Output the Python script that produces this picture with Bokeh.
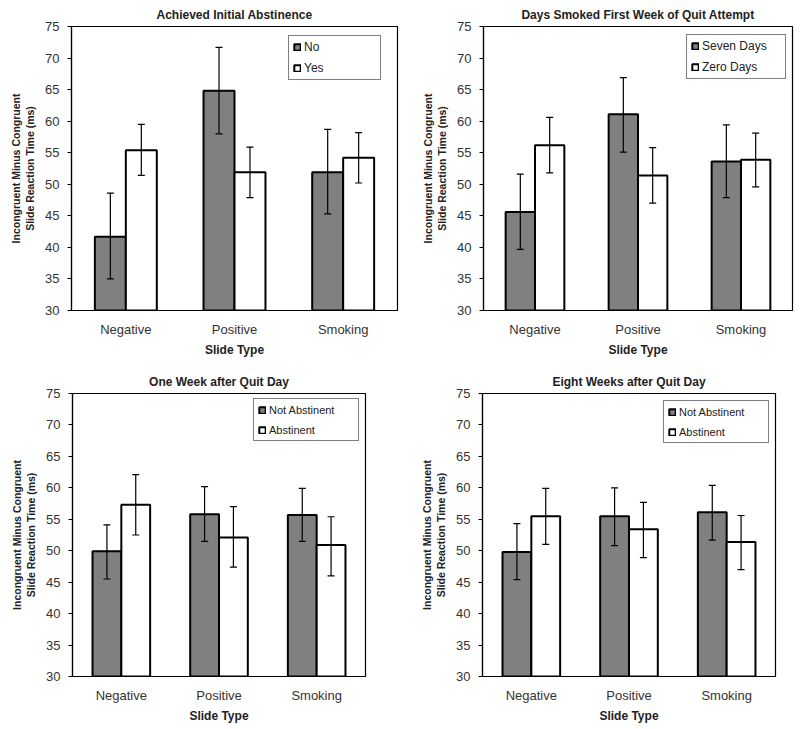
from bokeh.plotting import figure
from bokeh.layouts import column, row
from bokeh.models import ColumnDataSource, Legend, LegendItem, Range1d, FixedTicker
from bokeh.transform import dodge
from bokeh.embed import file_html
from bokeh.resources import INLINE

categories = ["Negative", "Positive", "Smoking"]

# Panel 1: Achieved Initial Abstinence
p1_title = "Achieved Initial Abstinence"
p1_names = ["No", "Yes"]
p1_a = [41.7, 64.8, 51.9]
p1_a_lo = [35.0, 58.0, 45.3]
p1_a_hi = [48.6, 71.7, 58.7]
p1_b = [55.4, 51.9, 54.2]
p1_b_lo = [51.4, 47.9, 50.2]
p1_b_hi = [59.5, 55.9, 58.2]

# Panel 2: Days Smoked First Week of Quit Attempt
p2_title = "Days Smoked First Week of Quit Attempt"
p2_names = ["Seven Days", "Zero Days"]
p2_a = [45.6, 61.1, 53.6]
p2_a_lo = [39.7, 55.1, 47.9]
p2_a_hi = [51.6, 66.9, 59.4]
p2_b = [56.2, 51.4, 53.9]
p2_b_lo = [51.8, 47.0, 49.6]
p2_b_hi = [60.6, 55.8, 58.1]

# Panel 3: One Week after Quit Day
p3_title = "One Week after Quit Day"
p3_names = ["Not Abstinent", "Abstinent"]
p3_a = [49.9, 55.8, 55.7]
p3_a_lo = [45.5, 51.5, 51.5]
p3_a_hi = [54.1, 60.2, 59.9]
p3_b = [57.3, 52.1, 50.9]
p3_b_lo = [52.5, 47.4, 46.0]
p3_b_hi = [62.1, 57.0, 55.4]

# Panel 4: Eight Weeks after Quit Day
p4_title = "Eight Weeks after Quit Day"
p4_names = ["Not Abstinent", "Abstinent"]
p4_a = [49.8, 55.5, 56.1]
p4_a_lo = [45.4, 50.8, 51.7]
p4_a_hi = [54.3, 60.0, 60.4]
p4_b = [55.5, 53.4, 51.4]
p4_b_lo = [51.0, 48.9, 47.0]
p4_b_hi = [59.9, 57.7, 55.6]

y_ticks = [30, 35, 40, 45, 50, 55, 60, 65, 70, 75]

FONT = "Liberation Sans"
DARK = "#808080"


def make_panel(title, names, a, a_lo, a_hi, b, b_lo, b_hi, width, height,
               borders, bar_w, legend_loc, legend_size, legend_font):
    bl, br, bt, bb = borders
    p = figure(x_range=categories, width=width, height=height,
               output_backend="svg", toolbar_location=None,
               min_border_left=bl, min_border_right=br,
               min_border_top=bt, min_border_bottom=bb)
    p.y_range = Range1d(30, 75)
    p.title.text = title
    p.title.align = "center"
    p.title.text_font = FONT
    p.title.text_font_size = "12px"
    p.title.text_font_style = "bold"
    p.title.text_color = "#222222"
    p.title.standoff = 10
    p.title.offset = 0

    src = ColumnDataSource(dict(cat=categories, a=a, a_lo=a_lo, a_hi=a_hi,
                                b=b, b_lo=b_lo, b_hi=b_hi))
    off = bar_w / 2.0
    ra = p.vbar(x=dodge("cat", -off, range=p.x_range), top="a", bottom=30,
                width=bar_w, source=src, fill_color=DARK,
                line_color="black", line_width=2)
    rb = p.vbar(x=dodge("cat", off, range=p.x_range), top="b", bottom=30,
                width=bar_w, source=src, fill_color="white",
                line_color="black", line_width=2)
    for key, o in (("a", -off), ("b", off)):
        xs = dodge("cat", o, range=p.x_range)
        p.segment(x0=xs, x1=xs, y0=key + "_lo", y1=key + "_hi",
                  source=src, line_color="black", line_width=1.2)
        p.scatter(x=xs, y=key + "_lo", marker="dash", size=7,
                  source=src, line_color="black", line_width=1.2)
        p.scatter(x=xs, y=key + "_hi", marker="dash", size=7,
                  source=src, line_color="black", line_width=1.2)

    p.grid.visible = False
    p.background_fill_color = "white"
    p.border_fill_color = "white"
    p.outline_line_color = "black"
    p.outline_line_width = 1.2

    p.yaxis.ticker = FixedTicker(ticks=y_ticks)
    p.yaxis.axis_label = "Incongruent Minus Congruent\nSlide Reaction Time (ms)"
    p.yaxis.axis_label_text_font = FONT
    p.yaxis.axis_label_text_font_size = "10.5px"
    p.yaxis.axis_label_text_font_style = "bold"
    p.yaxis.axis_label_text_color = "#222222"
    p.yaxis.axis_label_standoff = 6
    p.yaxis.major_label_text_font = FONT
    p.yaxis.major_label_text_font_size = "13px"
    p.yaxis.major_label_text_color = "#333333"
    p.yaxis.major_tick_out = 4
    p.yaxis.major_tick_in = 0
    p.yaxis.minor_tick_line_color = None
    p.yaxis.axis_line_color = "black"
    p.yaxis.axis_line_width = 1.2
    p.yaxis.major_label_standoff = 8

    p.xaxis.axis_label = "Slide Type"
    p.xaxis.axis_label_text_font = FONT
    p.xaxis.axis_label_text_font_size = "12px"
    p.xaxis.axis_label_text_font_style = "bold"
    p.xaxis.axis_label_text_color = "#222222"
    p.xaxis.axis_label_standoff = 3
    p.xaxis.major_label_text_font = FONT
    p.xaxis.major_label_text_font_size = "13px"
    p.xaxis.major_label_text_color = "#333333"
    p.xaxis.major_tick_line_color = None
    p.xaxis.major_tick_out = 0
    p.xaxis.major_tick_in = 0
    p.xaxis.major_label_standoff = 11
    p.xaxis.axis_line_color = "black"
    p.xaxis.axis_line_width = 1.2

    lw, lh = legend_size
    legend = Legend(items=[LegendItem(label=names[0], renderers=[ra]),
                           LegendItem(label=names[1], renderers=[rb])],
                    location=legend_loc)
    legend.border_line_color = "black"
    legend.border_line_width = 1.5
    legend.background_fill_color = "white"
    legend.background_fill_alpha = 1
    legend.padding = 4
    legend.margin = 0
    legend.spacing = 7
    legend.glyph_width = 8
    legend.glyph_height = 8
    legend.label_standoff = 3
    legend.label_height = 13
    legend.label_text_font = FONT
    legend.label_text_font_size = legend_font
    legend.label_text_color = "#222222"
    legend.label_width = lw - 8 - 8 - 3
    p.add_layout(legend, "center")
    return p


p1 = make_panel(p1_title, p1_names, p1_a, p1_a_lo, p1_a_hi, p1_b, p1_b_lo, p1_b_hi,
                400, 360, (71, 3, 25, 50), 0.285, (217, 230), (91, 42), "12px")
p2 = make_panel(p2_title, p2_names, p2_a, p2_a_lo, p2_a_hi, p2_b, p2_b_lo, p2_b_hi,
                400, 360, (83, 8, 25, 50), 0.285, (203, 231), (98, 43), "12px")
p3 = make_panel(p3_title, p3_names, p3_a, p3_a_lo, p3_a_hi, p3_b, p3_b_lo, p3_b_hi,
                400, 369, (72, 35, 32, 53), 0.295, (181, 235), (104, 41), "11px")
p4 = make_panel(p4_title, p4_names, p4_a, p4_a_lo, p4_a_hi, p4_b, p4_b_lo, p4_b_hi,
                400, 369, (82, 25, 33, 53), 0.295, (181, 233), (104, 42), "11px")

layout = column(row(p1, p2), row(p3, p4))

open("out.html", "w").write(file_html(layout, INLINE))
